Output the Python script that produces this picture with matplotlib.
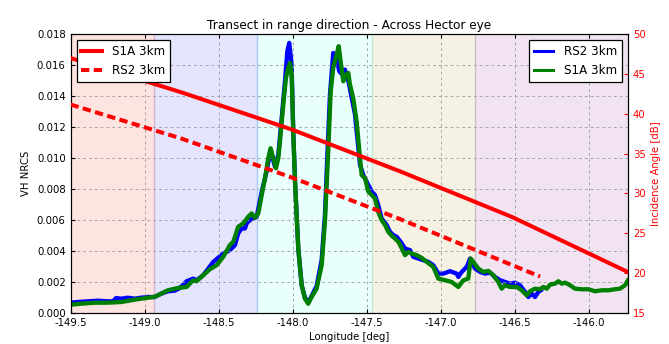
import matplotlib
matplotlib.use('Agg')
import matplotlib.pyplot as plt
import numpy as np

# ---------------- data ----------------
# S1A 3km NRCS transect (values in units of 1e-3)
s1a_lon = [-149.500, -149.428, -149.338, -149.248, -149.158, -149.068, -148.978, -148.935,
           -148.888, -148.843, -148.775, -148.716, -148.672, -148.649, -148.604, -148.559,
           -148.514, -148.469, -148.424, -148.401, -148.368, -148.334, -148.300, -148.277,
           -148.255, -148.232, -148.209, -148.187, -148.165, -148.149, -148.131, -148.113,
           -148.097, -148.086, -148.074, -148.059, -148.045, -148.030, -148.018, -148.007,
           -147.996, -147.984, -147.962, -147.939, -147.917, -147.895, -147.872, -147.838,
           -147.804, -147.782, -147.759, -147.743, -147.726, -147.703, -147.689, -147.676,
           -147.658, -147.640, -147.624, -147.613, -147.591, -147.568, -147.545, -147.534,
           -147.511, -147.489, -147.466, -147.444, -147.422, -147.399, -147.376, -147.354,
           -147.331, -147.309, -147.286, -147.268, -147.241, -147.219, -147.196, -147.162,
           -147.128, -147.095, -147.050, -147.016, -146.971, -146.926, -146.881, -146.847,
           -146.814, -146.797, -146.780, -146.746, -146.712, -146.678, -146.645, -146.611,
           -146.588, -146.566, -146.532, -146.486, -146.453, -146.419, -146.397, -146.363,
           -146.329, -146.307, -146.284, -146.261, -146.228, -146.205, -146.182, -146.160,
           -146.126, -146.093, -146.047, -146.003, -145.958, -145.912, -145.867, -145.824,
           -145.789, -145.755, -145.735]
s1a_nrcs_e3 = [0.537, 0.602, 0.667, 0.667, 0.712, 0.861, 0.990, 1.036,
               1.249, 1.469, 1.618, 1.683, 2.117, 2.052, 2.440, 2.828,
               3.087, 3.625, 4.382, 4.595, 5.566, 5.780, 6.214, 6.427,
               6.149, 6.427, 7.618, 8.693, 9.987, 10.634, 9.987, 9.340,
               9.987, 11.068, 12.362, 13.871, 15.165, 15.812, 16.136, 15.385,
               11.715, 8.479, 4.162, 1.793, 0.926, 0.602, 1.036, 1.573,
               3.087, 5.890, 10.634, 14.304, 15.812, 16.680, 17.217, 16.246,
               14.951, 15.385, 15.489, 14.738, 13.871, 12.362, 9.987, 8.913,
               8.693, 7.832, 7.618, 7.398, 6.537, 6.000, 5.676, 5.243,
               4.984, 4.809, 4.595, 4.272, 3.735, 3.948, 3.838, 3.735,
               3.560, 3.301, 2.977, 2.220, 2.117, 2.006, 1.683, 2.117,
               2.220, 3.515, 3.301, 2.867, 2.654, 2.718, 2.440, 2.006,
               1.573, 1.793, 1.683, 1.683, 1.469, 1.146, 1.405, 1.573,
               1.534, 1.683, 1.573, 1.832, 1.896, 2.052, 1.896, 1.961,
               1.793, 1.573, 1.534, 1.534, 1.405, 1.469, 1.469, 1.534,
               1.573, 1.793, 2.117]

# RS2 3km NRCS transect (values in units of 1e-3)
rs2_lon = [-149.500, -149.451, -149.383, -149.316, -149.248, -149.214, -149.192, -149.158,
           -149.113, -149.068, -149.023, -148.978, -148.932, -148.888, -148.843, -148.797,
           -148.761, -148.716, -148.672, -148.649, -148.604, -148.536, -148.469, -148.424,
           -148.390, -148.368, -148.345, -148.322, -148.311, -148.289, -148.266, -148.243,
           -148.209, -148.176, -148.149, -148.120, -148.097, -148.074, -148.052, -148.036,
           -148.023, -148.007, -147.996, -147.984, -147.962, -147.939, -147.917, -147.895,
           -147.872, -147.838, -147.804, -147.782, -147.764, -147.748, -147.726, -147.703,
           -147.685, -147.667, -147.647, -147.626, -147.601, -147.579, -147.545, -147.523,
           -147.489, -147.466, -147.444, -147.422, -147.399, -147.365, -147.343, -147.320,
           -147.297, -147.268, -147.241, -147.207, -147.185, -147.151, -147.118, -147.084,
           -147.050, -147.016, -146.982, -146.937, -146.892, -146.881, -146.858, -146.824,
           -146.802, -146.768, -146.734, -146.701, -146.667, -146.633, -146.599, -146.566,
           -146.532, -146.498, -146.464, -146.430, -146.408, -146.385, -146.363, -146.341,
           -146.324]
rs2_nrcs_e3 = [0.667, 0.712, 0.757, 0.796, 0.757, 0.757, 0.971, 0.926,
               0.990, 0.926, 0.990, 1.036, 1.036, 1.249, 1.405, 1.443,
               1.618, 2.052, 2.220, 2.117, 2.440, 3.301, 3.838, 4.058,
               4.382, 5.133, 5.456, 5.456, 5.780, 6.000, 6.104, 6.214,
               7.832, 9.126, 10.531, 9.450, 10.207, 12.576, 14.951, 16.893,
               17.430, 16.032, 11.715, 8.479, 4.162, 1.793, 1.003, 0.667,
               1.100, 1.748, 3.430, 6.343, 10.550, 14.110, 16.783, 16.375,
               15.599, 15.405, 15.709, 15.081, 13.871, 12.816, 9.560, 8.913,
               8.265, 7.832, 7.618, 6.971, 6.104, 5.676, 5.243, 5.029,
               4.919, 4.563, 4.162, 4.058, 3.625, 3.515, 3.411, 3.301,
               3.087, 2.544, 2.544, 2.699, 2.544, 2.330, 2.654, 2.977,
               3.515, 2.867, 2.654, 2.544, 2.608, 2.330, 2.117, 2.006,
               1.896, 1.961, 1.793, 1.359, 1.036, 1.249, 1.036, 1.359,
               1.469]

# Incidence angles (right axis)
inc_s1a_lon = [-149.500, -148.748, -148.005, -147.275, -146.518, -145.735]
inc_s1a_deg = [46.99, 42.67, 38.02, 32.78, 27.05, 20.14]
inc_rs2_lon = [-149.500, -148.748, -148.005, -147.275, -146.518, -146.329]
inc_rs2_deg = [41.16, 36.87, 32.00, 26.79, 21.02, 19.58]

# Background zones
zone_edges = [-149.5, -148.935, -148.243, -147.466, -146.77, -145.735]
zone_colors = ['#fde4e0', '#e4e4fc', '#e8fffc', '#f5f2e3', '#f1e3f2']
zone_edge_colors = ['#d9b2dc', '#a9c9f5', '#c6e6d6', '#c9c2c0']

title = 'Transect in range direction - Across Hector eye'
xticks = [-149.5, -149.0, -148.5, -148.0, -147.5, -147.0, -146.5, -146.0]
yticks_left = [0.000, 0.002, 0.004, 0.006, 0.008, 0.010, 0.012, 0.014, 0.016, 0.018]
yticks_right = [15, 20, 25, 30, 35, 40, 45, 50]

# ---------------- plot ----------------
plt.rcParams['font.family'] = ['DejaVu Sans']
plt.rcParams['lines.scale_dashes'] = False

fig = plt.figure(figsize=(6.69, 3.44), dpi=100)
ax = fig.add_axes([0.1055, 0.090, 0.8332, 0.811])

for i, c in enumerate(zone_colors):
    ax.axvspan(zone_edges[i], zone_edges[i + 1], facecolor=c, edgecolor='none', zorder=0)
for e, c in zip(zone_edges[1:-1], zone_edge_colors):
    ax.axvline(e, color=c, lw=1.0, zorder=0.5)

ax.plot(rs2_lon, np.array(rs2_nrcs_e3) * 1e-3, color='blue', lw=3.1, zorder=2)
ax.plot(s1a_lon, np.array(s1a_nrcs_e3) * 1e-3, color='green', lw=3.1, zorder=3)

ax.set_xlim(zone_edges[0], zone_edges[-1])
ax.set_ylim(0, 0.018)
ax.set_xticks(xticks)
ax.set_yticks(yticks_left)
ax.yaxis.set_major_formatter(matplotlib.ticker.FormatStrFormatter('%.3f'))
ax.xaxis.set_major_formatter(matplotlib.ticker.FormatStrFormatter('%.1f'))
ax.grid(True, color='#9a9a9a', linestyle=(0, (2.0, 2.2)), lw=0.6, zorder=1)
ax.set_axisbelow(False)
ax.tick_params(direction='in', length=3, labelsize=7.3, top=True)
ax.set_xlabel('Longitude [deg]', fontsize=7.3, labelpad=3)
ax.set_ylabel('VH NRCS', fontsize=7.3, labelpad=4)
ax.set_title(title, fontsize=8.7, pad=4)

from matplotlib.lines import Line2D
h_rs2 = Line2D([], [], color='blue', lw=2.2)
h_s1a = Line2D([], [], color='green', lw=2.2)
leg1 = ax.legend([h_rs2, h_s1a], ['RS2 3km', 'S1A 3km'], loc='upper right', fontsize=8.6,
                 fancybox=False, edgecolor='black', framealpha=1, handlelength=1.6,
                 handletextpad=0.9, borderaxespad=0.5)
leg1.get_frame().set_linewidth(0.9)

ax2 = ax.twinx()
ax2.plot(inc_s1a_lon, inc_s1a_deg, color='red', lw=2.9, label='S1A 3km', zorder=3)
ax2.plot(inc_rs2_lon, inc_rs2_deg, color='red', lw=2.9, dashes=(6, 3.2),
         label='RS2 3km', zorder=3)
ax2.set_ylim(15, 50)
ax2.set_yticks(yticks_right)
ax2.set_xlim(zone_edges[0], zone_edges[-1])
ax2.tick_params(axis='y', direction='in', length=3, labelsize=7.3,
                colors='red', labelcolor='red')
ax2.set_ylabel('Incidence Angle [dB]', color='red', fontsize=7.3, labelpad=4)
leg2 = ax2.legend(loc='upper left', fontsize=8.6, fancybox=False, edgecolor='black',
                  framealpha=1, handlelength=1.7, handletextpad=0.9, borderaxespad=0.5)
leg2.get_frame().set_linewidth(0.9)

fig.savefig('out.png', dpi=100)
